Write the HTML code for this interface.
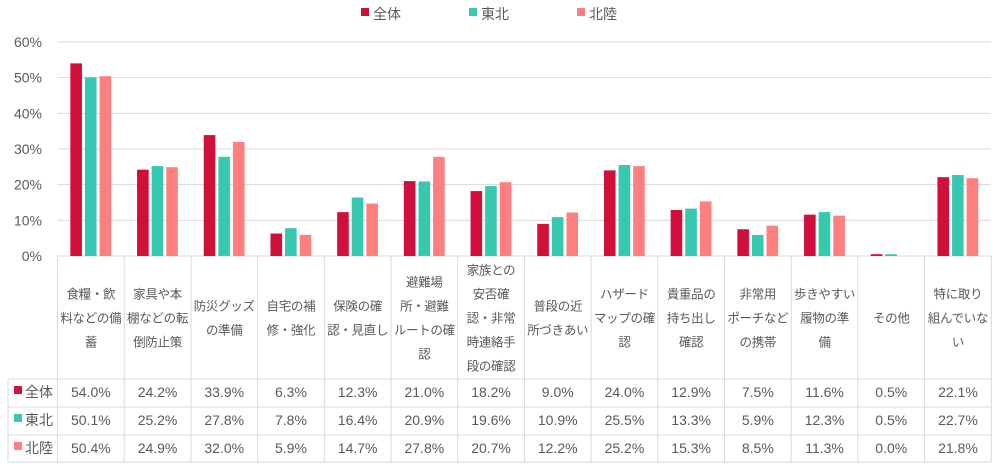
<!DOCTYPE html>
<html><head><meta charset="utf-8"><style>
body{margin:0;background:#fff}
svg text{font-family:"Liberation Sans","Noto Sans CJK JP",sans-serif;fill:#595959}
</style></head><body>
<svg id="s" width="999" height="469" xmlns="http://www.w3.org/2000/svg"></svg>
<script>
const cats=[["食糧・飲","料などの備","蓄"],["家具や本","棚などの転","倒防止策"],["防災グッズ","の準備"],["自宅の補","修・強化"],["保険の確","認・見直し"],["避難場","所・避難","ルートの確","認"],["家族との","安否確","認・非常","時連絡手","段の確認"],["普段の近","所づきあい"],["ハザード","マップの確","認"],["貴重品の","持ち出し","確認"],["非常用","ポーチなど","の携帯"],["歩きやすい","履物の準","備"],["その他"],["特に取り","組んでいな","い"]];
const d=[[54.0,24.2,33.9,6.3,12.3,21.0,18.2,9.0,24.0,12.9,7.5,11.6,0.5,22.1],
[50.1,25.2,27.8,7.8,16.4,20.9,19.6,10.9,25.5,13.3,5.9,12.3,0.5,22.7],
[50.4,24.9,32.0,5.9,14.7,27.8,20.7,12.2,25.2,15.3,8.5,11.3,0.0,21.8]];
const names=["全体","東北","北陸"],cols=["#D0103A","#36C9B0","#FF7F7F"];
const x0=57.5,cw=66.7,y0=256,u=3.567;
let h="";
for(let i=0;i<=6;i++){const y=y0-i*35.67;h+=`<line x1="${x0}" x2="991" y1="${y}" y2="${y}" stroke="#d9d9d9"/>`;h+=`<text x="42" y="${y+5}" font-size="14" text-anchor="end">${i*10}%</text>`;}
for(let c=0;c<14;c++){const cx=x0+cw*c+cw/2;for(let s=0;s<3;s++){const v=d[s][c],hh=v*u;h+=`<rect x="${cx-20.5+s*14.6}" y="${y0-hh}" width="11.6" height="${hh}" fill="${cols[s]}"/>`;}
const L=cats[c],n=L.length,top=317.5-(n-1)*12;L.forEach((t,k)=>{h+=`<text x="${cx}" y="${top+k*24+5}" font-size="12.5" letter-spacing="-0.3" text-anchor="middle">${t}</text>`;});
for(let s=0;s<3;s++)h+=`<text x="${cx}" y="${397+s*28}" font-size="14" text-anchor="middle">${d[s][c].toFixed(1)}%</text>`;}
for(let c=0;c<=14;c++){const x=x0+cw*c;h+=`<line x1="${x}" x2="${x}" y1="256" y2="462" stroke="#d9d9d9"/>`;}
h+=`<line x1="8" x2="8" y1="379" y2="462" stroke="#d9d9d9"/>`;
[379,407,435,462].forEach(y=>h+=`<line x1="8" x2="991" y1="${y}" y2="${y}" stroke="#d9d9d9"/>`);
for(let s=0;s<3;s++){h+=`<rect x="14" y="${386+s*28}" width="8" height="8" fill="${cols[s]}"/><text x="25" y="${397+s*28}" font-size="14">${names[s]}</text>`;
h+=`<rect x="${361+s*108}" y="8" width="8" height="8" fill="${cols[s]}"/><text x="${373+s*108}" y="19" font-size="14">${names[s]}</text>`;}
document.getElementById("s").innerHTML=h;
</script>
</body></html>
